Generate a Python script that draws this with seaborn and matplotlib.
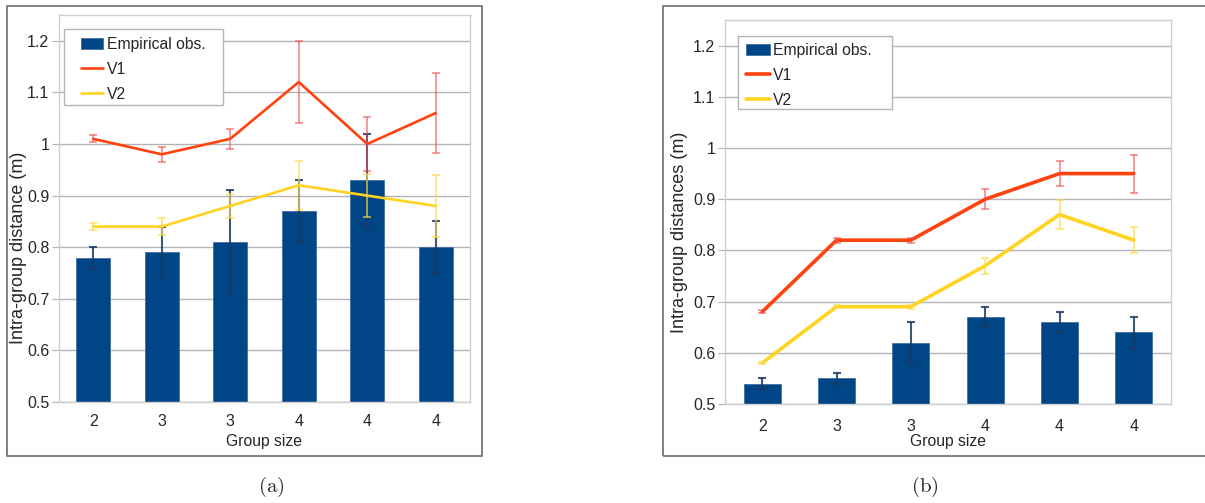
import numpy as np
import pandas as pd
import matplotlib
matplotlib.use("Agg")
import matplotlib.pyplot as plt
from matplotlib.patches import Rectangle
import seaborn as sns

# ---- data ----
group_sizes = ["2", "3", "3", "4", "4", "4"]

# panel (a)
emp_a = [0.78, 0.79, 0.81, 0.87, 0.93, 0.80]
emp_a_err = [0.02, 0.05, 0.10, 0.06, 0.09, 0.05]
v1_a = [1.01, 0.98, 1.01, 1.12, 1.00, 1.06]
v1_a_err = [0.007, 0.015, 0.019, 0.08, 0.052, 0.078]
v2_a = [0.84, 0.84, 0.88, 0.92, 0.90, 0.88]
v2_a_err = [0.007, 0.017, 0.023, 0.047, 0.042, 0.06]

# panel (b)
emp_b = [0.54, 0.55, 0.62, 0.67, 0.66, 0.64]
emp_b_err = [0.01, 0.01, 0.04, 0.02, 0.02, 0.03]
v1_b = [0.68, 0.82, 0.82, 0.90, 0.95, 0.95]
v1_b_err = [0.003, 0.005, 0.005, 0.019, 0.025, 0.037]
v2_b = [0.58, 0.69, 0.69, 0.77, 0.87, 0.82]
v2_b_err = [0.002, 0.003, 0.004, 0.016, 0.028, 0.026]

BLUE = "#004586"
RED = "#ff420e"
YELLOW = "#ffd320"
GRID = "#b3b3b3"

sns.set_style("white")
plt.rcParams["font.family"] = ["Liberation Sans", "DejaVu Sans"]
plt.rcParams["mathtext.fontset"] = "cm"

fig = plt.figure(figsize=(12.05, 5.03), dpi=100)


def panel(rect, emp, emp_err, v1, v1_err, v2, v2_err, ylabel, lw,
          ylab_xy, tickpad, xlabelpad, leg_anchor, leg_box, handle_len):
    ax = fig.add_axes(rect)
    idx = list(range(len(group_sizes)))
    df = pd.DataFrame({"pos": idx, "emp": emp, "v1": v1, "v2": v2})

    # bars + their error bars
    sns.barplot(data=df, x="pos", y="emp", color=BLUE, width=0.5, saturation=1,
                label="Empirical obs.", ax=ax, zorder=2, edgecolor="#3f6fa3", linewidth=0.6)
    ax.errorbar(idx, emp, yerr=emp_err, fmt="none", ecolor="#1c3a63", alpha=0.85,
                elinewidth=1.5, capsize=3, capthick=1.5, zorder=3)

    # model lines
    sns.lineplot(data=df, x="pos", y="v1", color=RED, linewidth=lw, label="V1",
                 ax=ax, zorder=4)
    ax.errorbar(idx, v1, yerr=v1_err, fmt="none", ecolor="#f0484e", alpha=0.6,
                elinewidth=1.3, capsize=3, capthick=1.3, zorder=5)
    sns.lineplot(data=df, x="pos", y="v2", color=YELLOW, linewidth=lw, label="V2",
                 ax=ax, zorder=4)
    ax.errorbar(idx, v2, yerr=v2_err, fmt="none", ecolor="#ffd84a", alpha=0.7,
                elinewidth=1.3, capsize=3, capthick=1.3, zorder=5)

    ax.set_xlim(-0.5, 5.5)
    ax.set_ylim(0.5, 1.25)
    yt = [0.5, 0.6, 0.7, 0.8, 0.9, 1.0, 1.1, 1.2]
    ax.set_yticks(yt)
    ax.set_yticklabels(["0.5", "0.6", "0.7", "0.8", "0.9", "1", "1.1", "1.2"])
    ax.set_xticks(idx)
    ax.set_xticklabels(group_sizes)
    ax.set_xticks(np.arange(-0.5, 6.0, 1.0), minor=True)
    ax.tick_params(axis="x", which="major", length=0, labelsize=11.5, pad=tickpad)
    ax.tick_params(axis="x", which="minor", length=5, color=GRID, width=1)
    ax.tick_params(axis="y", length=5, color=GRID, labelsize=11.5, pad=2, left=True)
    ax.grid(axis="y", color=GRID, linewidth=1, zorder=0)
    ax.set_axisbelow(True)
    for s in ax.spines.values():
        s.set_visible(True)
        s.set_color("#cfcfcf")
        s.set_linewidth(1)
    ax.set_xlabel("Group size", fontsize=11.3, labelpad=xlabelpad)
    ax.set_ylabel(ylabel, fontsize=13)
    ax.yaxis.set_label_coords(*ylab_xy)

    # legend: bars first, framed box drawn separately
    handles, labels = ax.get_legend_handles_labels()
    order = [labels.index("Empirical obs."), labels.index("V1"), labels.index("V2")]
    ax.legend([handles[i] for i in order], [labels[i] for i in order],
              loc="upper left", bbox_to_anchor=leg_anchor, fontsize=11.3,
              frameon=False, handlelength=handle_len, handleheight=0.75,
              handletextpad=0.25, labelspacing=0.62, borderpad=0, borderaxespad=0)
    ax.add_patch(Rectangle(leg_box[:2], leg_box[2], leg_box[3], transform=ax.transAxes,
                           facecolor="white", edgecolor=GRID, linewidth=1, zorder=6))
    ax.get_legend().set_zorder(7)
    return ax


panel([59 / 1205, 101 / 503, 411 / 1205, 387 / 503], emp_a, emp_a_err, v1_a, v1_a_err,
      v2_a, v2_a_err, "Intra-group distance (m)", 1.9,
      (-0.078, 0.398), 8.5, 4,
      (0.0535, 0.943), (0.012, 0.767, 0.387, 0.196), 1.4)
panel([725 / 1205, 99 / 503, 446 / 1205, 384 / 503], emp_b, emp_b_err, v1_b, v1_b_err,
      v2_b, v2_b_err, "Intra-group distances (m)", 2.6,
      (-0.083, 0.448), 10.5, 0,
      (0.047, 0.940), (0.029, 0.768, 0.345, 0.190), 1.5)

# chart frames
fig.patches.append(Rectangle((7 / 1205, 47 / 503), 475 / 1205, 450 / 503,
                             transform=fig.transFigure, fill=False,
                             edgecolor="#6b6b6b", linewidth=1.2))
fig.patches.append(Rectangle((663 / 1205, 47 / 503), 560 / 1205, 450 / 503,
                             transform=fig.transFigure, fill=False,
                             edgecolor="#6b6b6b", linewidth=1.2))

fig.text(271 / 1205, 1 - 487 / 503, r"$(\mathrm{a})$", fontsize=15, ha="center", va="center")
fig.text(925 / 1205, 1 - 487 / 503, r"$(\mathrm{b})$", fontsize=15, ha="center", va="center")

fig.savefig("out.png", dpi=100)
